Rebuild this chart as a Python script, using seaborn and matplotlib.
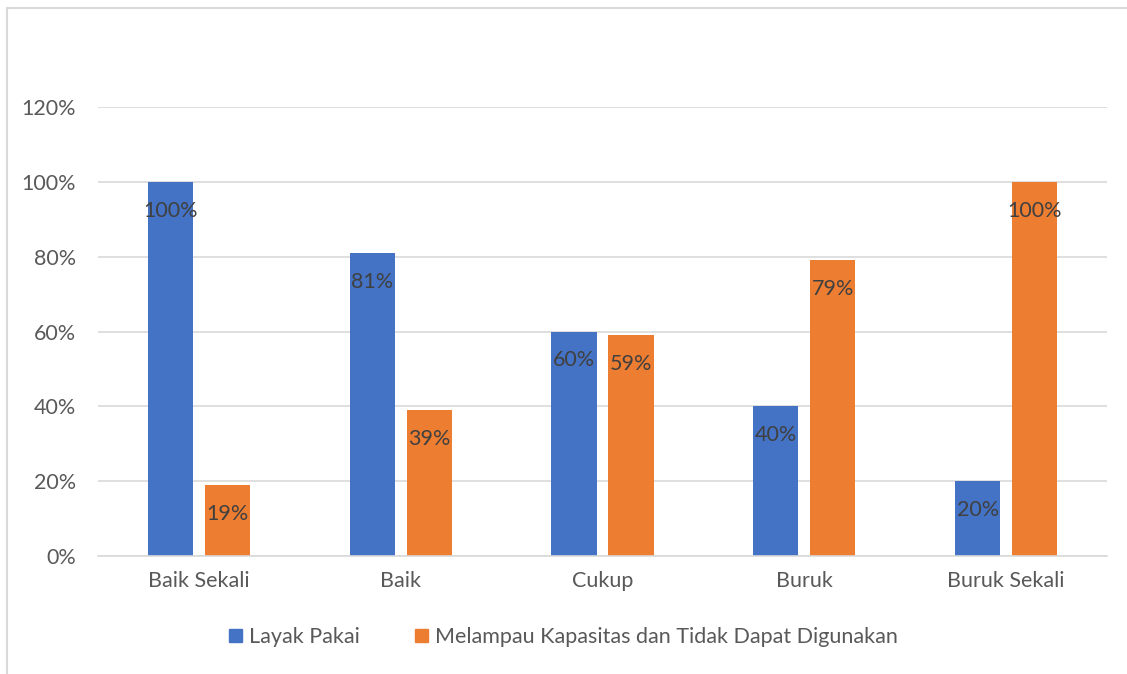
"""
Layak Pakai vs Melampau Kapasitas per kategori kondisi (Excel-style clustered bars).
"""

import matplotlib
matplotlib.use('Agg')
import matplotlib.pyplot as plt
from matplotlib.lines import Line2D
import seaborn as sns
import pandas as pd

categories = ['Baik Sekali', 'Baik', 'Cukup', 'Buruk', 'Buruk Sekali']
layak_pakai = [100, 81, 60, 40, 20]
melampau = [19, 39, 59, 79, 100]
series_names = ['Layak Pakai', 'Melampau Kapasitas dan Tidak Dapat Digunakan']
colors = ['#4472C4', '#ED7D31']
y_ticks = [0, 20, 40, 60, 80, 100, 120]

df = pd.DataFrame({
    'kategori': categories * 2,
    'nilai': layak_pakai + melampau,
    'seri': [series_names[0]] * len(categories) + [series_names[1]] * len(categories),
})

sns.set_style('white')
plt.rcParams['font.family'] = ['Lato', 'DejaVu Sans']
fs = 15.5

fig = plt.figure(figsize=(11.27, 6.74), dpi=100)
ax = fig.add_axes([98 / 1127, 1 - 556 / 674, (1107 - 98) / 1127, (556 - 107) / 674])

sns.barplot(data=df, x='kategori', y='nilai', hue='seri', palette=colors,
            width=0.565, gap=0.21, saturation=1, linewidth=0, ax=ax, legend=False)

# data labels just inside the top of each bar
for container in ax.containers:
    ax.bar_label(container, fmt='%d%%', label_type='edge', padding=-28,
                 fontsize=fs, color='#404040')

ax.set_ylim(0, 120)
ax.set_xlim(-0.5, len(categories) - 0.5)
ax.set_yticks(y_ticks)
ax.set_yticklabels([f'{v}%' for v in y_ticks])
ax.set_xlabel('')
ax.set_ylabel('')
ax.yaxis.grid(True, color='#D9D9D9', linewidth=1.2)
ax.set_axisbelow(True)
for side in ['top', 'right', 'left']:
    ax.spines[side].set_visible(False)
ax.spines['bottom'].set_color('#D9D9D9')
ax.spines['bottom'].set_linewidth(1.2)
ax.tick_params(axis='both', length=0, labelsize=fs, colors='#595959')
ax.tick_params(axis='y', pad=16)
ax.tick_params(axis='x', pad=11)

handles = [plt.Rectangle((0, 0), 1, 1, color=c) for c in colors]
fig.legend(handles, series_names, loc='center', bbox_to_anchor=(0.5, 1 - 637 / 674),
           ncol=2, frameon=False, fontsize=fs, handlelength=0.6, handleheight=0.6,
           handletextpad=0.3, columnspacing=2.6, labelcolor='#595959')

# chart-area border (only top and left visible in the crop)
border = dict(color='#D9D9D9', linewidth=1.5, transform=fig.transFigure)
fig.add_artist(Line2D([7 / 1127, 1], [1 - 8 / 674, 1 - 8 / 674], **border))
fig.add_artist(Line2D([7 / 1127, 7 / 1127], [0, 1 - 8 / 674], **border))

fig.savefig('out.png', dpi=100)
